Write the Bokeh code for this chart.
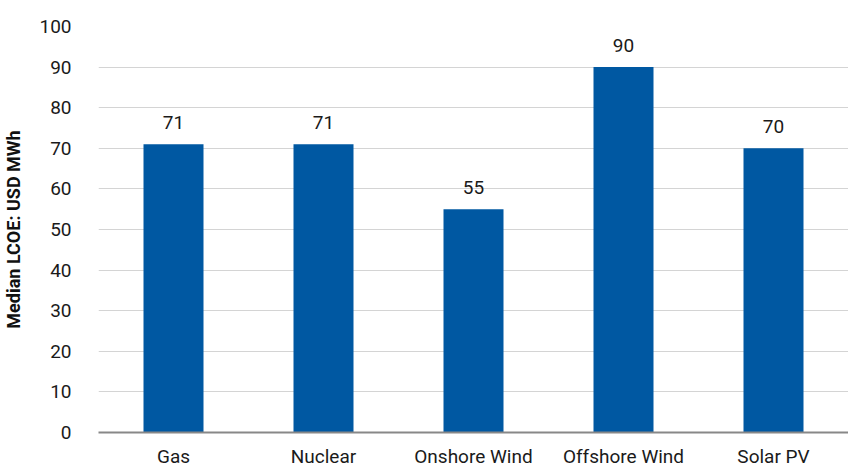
from bokeh.plotting import figure
from bokeh.models import ColumnDataSource, SingleIntervalTicker
from bokeh.core.properties import value
from bokeh.embed import file_html
from bokeh.resources import INLINE

categories = ["Gas", "Nuclear", "Onshore Wind", "Offshore Wind", "Solar PV"]
lcoe = [71, 71, 55, 90, 70]
labels = [str(v) for v in lcoe]

src = ColumnDataSource(dict(cat=categories, val=lcoe, lab=labels))

p = figure(x_range=categories, y_range=(0, 100), width=848, height=470,
           output_backend="svg", toolbar_location=None,
           min_border_left=98, min_border_right=0, min_border_top=26, min_border_bottom=0)
p.outline_line_color = None
p.background_fill_color = "white"
p.border_fill_color = "white"

font = "Roboto"

p.vbar(x="cat", top="val", width=0.4, source=src, color="#0058A2", line_color=None)
p.text(x="cat", y="val", text="lab", source=src, text_align="center", text_baseline="bottom",
       y_offset=-15, text_font=value(font), text_font_size="19px", text_color="#1a1a1a")

p.yaxis.ticker = SingleIntervalTicker(interval=10)
p.yaxis.axis_label = "Median LCOE: USD MWh"
p.yaxis.axis_label_text_font = font
p.yaxis.axis_label_text_font_style = "bold"
p.yaxis.axis_label_text_font_size = "18px"
p.yaxis.axis_label_text_color = "#111111"
p.yaxis.axis_label_standoff = 12
p.yaxis.axis_line_color = None
p.yaxis.major_tick_line_color = None
p.yaxis.minor_tick_line_color = None
p.yaxis.major_label_text_font = font
p.yaxis.major_label_text_font_size = "19px"
p.yaxis.major_label_text_color = "#1a1a1a"
p.yaxis.major_label_standoff = 21

p.xaxis.axis_line_color = "#888888"
p.xaxis.axis_line_width = 2
p.xaxis.major_tick_line_color = None
p.xaxis.minor_tick_line_color = None
p.xaxis.major_label_text_font = font
p.xaxis.major_label_text_font_size = "19px"
p.xaxis.major_label_text_color = "#1a1a1a"
p.xaxis.major_label_standoff = 6

p.xgrid.grid_line_color = None
p.ygrid.grid_line_color = "#d4d4d4"
p.ygrid.grid_line_width = 1
p.x_range.range_padding = 0

open("out.html", "w").write(file_html(p, INLINE))
